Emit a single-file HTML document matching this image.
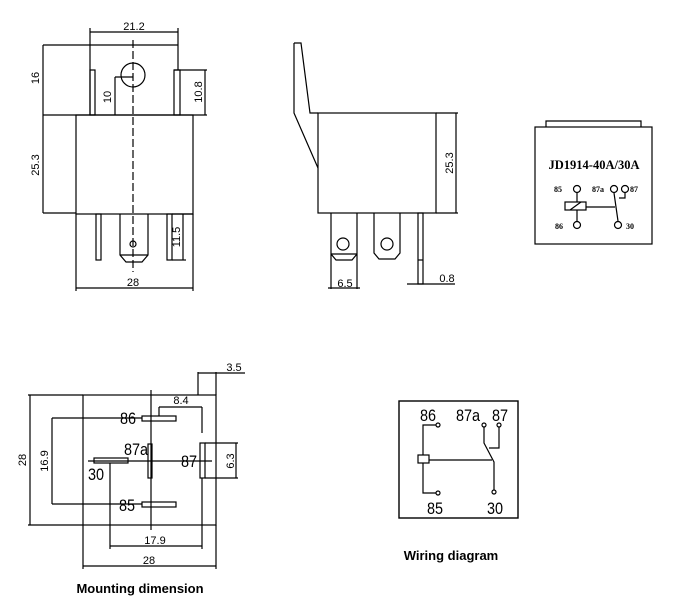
<!DOCTYPE html>
<html><head><meta charset="utf-8"><style>
html,body{margin:0;padding:0;background:#fff;}
svg{display:block;}
text{font-family:"Liberation Sans",sans-serif;fill:#000;}
</style></head><body>
<svg width="700" height="603" viewBox="0 0 700 603" xmlns="http://www.w3.org/2000/svg">
<g stroke="#000" stroke-width="1.2" fill="none">
<!-- FRONT VIEW -->
<line x1="90" y1="32" x2="178" y2="32"/>
<line x1="90" y1="28" x2="90" y2="115"/>
<line x1="178" y1="28" x2="178" y2="70"/>
<line x1="43" y1="45" x2="178" y2="45"/>
<line x1="43" y1="45" x2="43" y2="213"/>
<rect x="90" y="70" width="5" height="45"/>
<rect x="174" y="70" width="6" height="45"/>
<line x1="174" y1="70" x2="207" y2="70"/>
<line x1="205" y1="70" x2="205" y2="115"/>
<circle cx="133" cy="75" r="12"/>
<line x1="115" y1="77" x2="133" y2="77"/>
<line x1="115" y1="77" x2="115" y2="115"/>
<line x1="43" y1="115" x2="207" y2="115"/>
<rect x="76" y="115" width="117" height="99"/>
<line x1="43" y1="213" x2="76" y2="213"/>
<line x1="133" y1="40" x2="133" y2="272" stroke-dasharray="8,3"/>
<rect x="96" y="214" width="5" height="46"/>
<path d="M120 214 V255 L126 262 H142 L148 255 V214"/>
<line x1="120" y1="255" x2="148" y2="255"/>
<circle cx="133" cy="244" r="3"/>
<rect x="167" y="214" width="5" height="46"/>
<line x1="172" y1="214" x2="193" y2="214"/>
<line x1="183" y1="214" x2="183" y2="260"/>
<line x1="172" y1="260" x2="186" y2="260"/>
<line x1="76" y1="214" x2="76" y2="291"/>
<line x1="193" y1="214" x2="193" y2="291"/>
<line x1="76" y1="288" x2="193" y2="288"/>
<!-- SIDE VIEW -->
<path d="M294 43 H301 L310 113 H318 M294 43 V113 L318 168"/>
<rect x="318" y="113" width="118" height="100"/>
<line x1="436" y1="113" x2="458" y2="113"/>
<line x1="436" y1="213" x2="458" y2="213"/>
<line x1="456" y1="113" x2="456" y2="213"/>
<path d="M331 213 V289 M357 213 V289 M331 254 L336 260 H352 L357 254"/>
<line x1="331" y1="254" x2="357" y2="254"/>
<circle cx="343" cy="244" r="6"/>
<path d="M374 213 V253 L379 259 H395 L400 253 V213"/>
<circle cx="387" cy="244" r="6"/>
<rect x="418" y="213" width="5" height="71"/>
<line x1="418" y1="260" x2="423" y2="260"/>
<line x1="328" y1="288" x2="360" y2="288"/>
<line x1="407" y1="284" x2="455" y2="284"/>
<!-- LABEL VIEW -->
<rect x="535" y="127" width="117" height="117"/>
<path d="M546 127 V121 H641 V127"/>
<circle cx="577" cy="189" r="3.5"/>
<circle cx="614" cy="189" r="3.5"/>
<circle cx="625" cy="189" r="3.5"/>
<circle cx="577" cy="225" r="3.5"/>
<circle cx="618" cy="225" r="3.5"/>
<rect x="565" y="202" width="21" height="8"/>
<line x1="570" y1="210" x2="581" y2="202"/>
<line x1="577" y1="193" x2="577" y2="202"/>
<line x1="577" y1="210" x2="577" y2="221"/>
<line x1="586" y1="207" x2="615" y2="207"/>
<path d="M614 193 L618 221 M625 193 V198 H619"/>
<!-- MOUNTING -->
<rect x="83" y="395" width="133" height="130"/>
<line x1="28" y1="395" x2="83" y2="395"/>
<line x1="28" y1="525" x2="83" y2="525"/>
<line x1="30" y1="395" x2="30" y2="525"/>
<line x1="52" y1="418" x2="142" y2="418"/>
<line x1="52" y1="504" x2="142" y2="504"/>
<line x1="52" y1="418" x2="52" y2="504"/>
<rect x="142" y="416" width="34" height="5"/>
<rect x="142" y="502" width="34" height="5"/>
<rect x="94" y="458" width="34" height="5"/>
<rect x="148" y="444" width="4" height="34"/>
<line x1="151" y1="390" x2="151" y2="530"/>
<line x1="88" y1="461" x2="212" y2="461"/>
<rect x="200" y="443" width="5" height="35"/>
<line x1="205" y1="443" x2="238" y2="443"/>
<line x1="205" y1="478" x2="238" y2="478"/>
<line x1="236" y1="443" x2="236" y2="478"/>
<line x1="198" y1="372" x2="198" y2="395"/>
<line x1="216" y1="372" x2="216" y2="395"/>
<line x1="198" y1="373" x2="245" y2="373"/>
<line x1="159" y1="407" x2="202" y2="407"/>
<line x1="159" y1="407" x2="159" y2="416"/>
<line x1="202" y1="407" x2="202" y2="433"/>
<line x1="202" y1="478" x2="202" y2="549"/>
<line x1="110" y1="463" x2="110" y2="549"/>
<line x1="110" y1="546" x2="202" y2="546"/>
<line x1="83" y1="525" x2="83" y2="569"/>
<line x1="216" y1="525" x2="216" y2="569"/>
<line x1="83" y1="566" x2="216" y2="566"/>
<!-- WIRING -->
<rect x="399" y="401" width="119" height="117" stroke-width="1.4"/>
<circle cx="438" cy="425" r="2"/>
<circle cx="484" cy="425" r="2"/>
<circle cx="499" cy="425" r="2"/>
<circle cx="438" cy="493" r="2"/>
<circle cx="494" cy="492" r="2"/>
<path d="M436 425 H423 V455 M423 463 V493 H436"/>
<rect x="418" y="455" width="11" height="8"/>
<line x1="429" y1="460" x2="492" y2="460"/>
<path d="M484 427 V443 L494 462 V490"/>
<path d="M499 427 V448 H489"/>
</g>
<!-- front view text -->
<text x="134" y="30" font-size="11" text-anchor="middle">21.2</text>
<text x="133" y="286" font-size="11" text-anchor="middle">28</text>
<text font-size="11" text-anchor="middle" transform="translate(39,78) rotate(-90)">16</text>
<text font-size="11" text-anchor="middle" transform="translate(111,97) rotate(-90)">10</text>
<text font-size="11" text-anchor="middle" transform="translate(202,92) rotate(-90)">10.8</text>
<text font-size="11" text-anchor="middle" transform="translate(39,165) rotate(-90)">25.3</text>
<text font-size="11" text-anchor="middle" transform="translate(180,237) rotate(-90)">11.5</text>
<!-- side text -->
<text font-size="11" text-anchor="middle" transform="translate(453,163) rotate(-90)">25.3</text>
<text x="345" y="287" font-size="11" text-anchor="middle">6.5</text>
<text x="447" y="282" font-size="11" text-anchor="middle">0.8</text>
<!-- label text -->
<text x="594" y="169" font-size="12.5" font-weight="bold" text-anchor="middle" style="font-family:'Liberation Serif',serif">JD1914-40A/30A</text>
<text x="558" y="192" font-size="8" font-weight="bold" text-anchor="middle" style="font-family:'Liberation Serif',serif">85</text>
<text x="598" y="192" font-size="8" font-weight="bold" text-anchor="middle" style="font-family:'Liberation Serif',serif">87a</text>
<text x="634" y="192" font-size="8" font-weight="bold" text-anchor="middle" style="font-family:'Liberation Serif',serif">87</text>
<text x="559" y="229" font-size="8" font-weight="bold" text-anchor="middle" style="font-family:'Liberation Serif',serif">86</text>
<text x="630" y="229" font-size="8" font-weight="bold" text-anchor="middle" style="font-family:'Liberation Serif',serif">30</text>
<!-- mounting text -->
<text x="128" y="424" font-size="17" text-anchor="middle" transform="translate(128,0) scale(0.85,1) translate(-128,0)">86</text>
<text x="136" y="455" font-size="17" text-anchor="middle" transform="translate(136,0) scale(0.85,1) translate(-136,0)">87a</text>
<text x="96" y="480" font-size="17" text-anchor="middle" transform="translate(96,0) scale(0.85,1) translate(-96,0)">30</text>
<text x="189" y="467" font-size="17" text-anchor="middle" transform="translate(189,0) scale(0.85,1) translate(-189,0)">87</text>
<text x="127" y="511" font-size="17" text-anchor="middle" transform="translate(127,0) scale(0.85,1) translate(-127,0)">85</text>
<text x="181" y="404" font-size="11" text-anchor="middle">8.4</text>
<text x="234" y="371" font-size="11" text-anchor="middle">3.5</text>
<text x="155" y="544" font-size="11" text-anchor="middle">17.9</text>
<text x="149" y="564" font-size="11" text-anchor="middle">28</text>
<text font-size="11" text-anchor="middle" transform="translate(26,460) rotate(-90)">28</text>
<text font-size="11" text-anchor="middle" transform="translate(48,461) rotate(-90)">16.9</text>
<text font-size="11" text-anchor="middle" transform="translate(234,461) rotate(-90)">6.3</text>
<text x="140" y="593" font-size="13" font-weight="bold" text-anchor="middle">Mounting dimension</text>
<!-- wiring text -->
<text x="428" y="421" font-size="17" text-anchor="middle" transform="translate(428,0) scale(0.85,1) translate(-428,0)">86</text>
<text x="468" y="421" font-size="17" text-anchor="middle" transform="translate(468,0) scale(0.85,1) translate(-468,0)">87a</text>
<text x="500" y="421" font-size="17" text-anchor="middle" transform="translate(500,0) scale(0.85,1) translate(-500,0)">87</text>
<text x="435" y="514" font-size="17" text-anchor="middle" transform="translate(435,0) scale(0.85,1) translate(-435,0)">85</text>
<text x="495" y="514" font-size="17" text-anchor="middle" transform="translate(495,0) scale(0.85,1) translate(-495,0)">30</text>
<text x="451" y="560" font-size="13" font-weight="bold" text-anchor="middle">Wiring diagram</text>
</svg>
</body></html>
